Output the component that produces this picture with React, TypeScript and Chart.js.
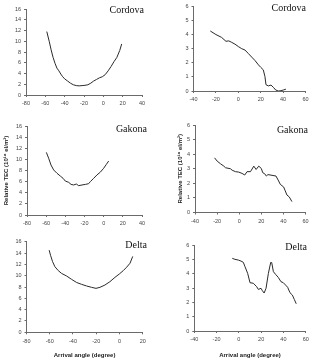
import { useEffect, useRef } from "react";
import { Chart, registerables } from "chart.js";

Chart.register(...registerables);

// ---- Data ----
const cordovaLeftX = [-58.5, -56, -54, -52, -50, -48, -46, -44, -42, -40, -37, -34, -31, -28, -25, -22, -19, -16, -13, -10, -7, -4, -1, 2, 5, 8, 11, 14, 17, 19];
const cordovaLeftY = [11.8, 10.0, 8.4, 7.0, 5.9, 5.0, 4.5, 3.9, 3.4, 3.0, 2.6, 2.2, 1.9, 1.75, 1.7, 1.75, 1.8, 1.9, 2.2, 2.6, 2.9, 3.2, 3.4, 3.8, 4.5, 5.3, 6.2, 7.0, 8.3, 9.5];

const cordovaRightX = [-25, -20, -15, -11, -8.5, -6, -3, 0, 3, 6, 9, 12, 15, 18, 20, 22.3, 23.8, 24.7, 26.8, 29.2, 31.3, 33.4, 35.7, 38.1, 40.2, 42.5];
const cordovaRightY = [4.25, 4.0, 3.8, 3.52, 3.55, 3.45, 3.32, 3.15, 3.0, 2.9, 2.65, 2.4, 2.15, 1.85, 1.68, 1.5, 1.02, 0.45, 0.36, 0.42, 0.26, 0.07, 0.0, 0.02, 0.07, 0.13];

const gakonaLeftX = [-59.8, -57.4, -55, -52.2, -48.7, -45.2, -42.4, -40, -36.5, -34, -31.3, -28.5, -26.1, -22.6, -19.1, -15.7, -13.9, -10.4, -7, -3.5, 0, 2.8, 5.2];
const gakonaLeftY = [11.26, 10.2, 9.0, 8.1, 7.5, 7.0, 6.6, 6.1, 5.87, 5.5, 5.4, 5.57, 5.27, 5.4, 5.5, 5.63, 6.0, 6.6, 7.2, 7.7, 8.4, 9.1, 9.7];

const gakonaRightX = [-22.3, -19.9, -16.9, -13.9, -12.4, -7.9, -6.4, -3.4, -0.4, 2.6, 5, 7.1, 10.2, 13.2, 15.3, 17.7, 20, 21.3, 23, 24.6, 26, 29.7, 33.3, 35.7, 37.2, 40.2, 41.7, 43.2, 45.3, 47.7];
const gakonaRightY = [3.75, 3.52, 3.34, 3.18, 3.07, 3.0, 2.9, 2.8, 2.77, 2.68, 2.57, 2.8, 2.8, 3.18, 2.95, 3.18, 3.02, 2.73, 2.66, 2.5, 2.6, 2.55, 2.5, 2.16, 1.93, 1.75, 1.48, 1.2, 1.07, 0.75];

const deltaLeftX = [-60.5, -59.3, -57.6, -55.6, -52.7, -49.8, -45.5, -41.2, -36.9, -32.6, -28.3, -24, -20.2, -16.8, -12.5, -8.2, -3.9, -0.1, 3.3, 6.2, 9.1, 11.4];
const deltaLeftY = [14.5, 13.6, 12.5, 11.6, 10.9, 10.4, 9.94, 9.35, 8.8, 8.47, 8.18, 7.94, 7.76, 7.94, 8.35, 8.94, 9.7, 10.3, 10.9, 11.5, 12.2, 13.4];

const deltaRightX = [-5.9, -3.5, -0.5, 1.9, 4, 5.5, 7.9, 10, 13, 16, 17.5, 19.9, 21.1, 22.7, 24.4, 26.5, 28.6, 29.5, 31, 33, 35.4, 37.8, 39.9, 42, 43.8, 45.9, 48, 49.8, 51.5];
const deltaRightY = [5.07, 5.0, 4.95, 4.88, 4.79, 4.49, 4.02, 3.37, 3.33, 3.09, 2.9, 2.98, 2.81, 2.65, 2.98, 4.02, 4.79, 4.77, 4.14, 3.95, 3.74, 3.44, 3.37, 3.2, 3.05, 2.67, 2.51, 2.2, 1.9];

const stations = ["Cordova", "Gakona", "Delta"];
const yTitleText = "Relative TEC (10\u00B9\u2076 el/m\u00B2)";
const xTitleText = "Arrival angle (degree)";

type Panel = {
  xs: number[];
  ys: number[];
  xMin: number;
  xMax: number;
  yMax: number;
  yStep: number;
  station: string;
  box: { left: number; top: number; width: number; height: number };
  plot: { left: number; top: number; right: number; bottom: number };
  labelDx: number;
  labelDy: number;
  yTitle?: number; // title padding
  xTitle?: boolean;
};

const panels: Panel[] = [
  {
    xs: cordovaLeftX, ys: cordovaLeftY, xMin: -80, xMax: 40, yMax: 16, yStep: 2, station: stations[0],
    box: { left: 0, top: 0, width: 155, height: 114 },
    plot: { left: 26, top: 9, right: 142, bottom: 95 },
    labelDx: 2, labelDy: 1.5,
  },
  {
    xs: cordovaRightX, ys: cordovaRightY, xMin: -40, xMax: 60, yMax: 6, yStep: 1, station: stations[0],
    box: { left: 160, top: 0, width: 155, height: 114 },
    plot: { left: 193.5, top: 6, right: 305.5, bottom: 91 },
    labelDx: 0.5, labelDy: 2.5,
  },
  {
    xs: gakonaLeftX, ys: gakonaLeftY, xMin: -80, xMax: 40, yMax: 16, yStep: 2, station: stations[1],
    box: { left: 0, top: 116, width: 155, height: 116 },
    plot: { left: 27, top: 126, right: 142, bottom: 215 },
    labelDx: 5, labelDy: 3, yTitle: 2.4,
  },
  {
    xs: gakonaRightX, ys: gakonaRightY, xMin: -40, xMax: 60, yMax: 6, yStep: 1, station: stations[1],
    box: { left: 175, top: 116, width: 140, height: 116 },
    plot: { left: 195, top: 125, right: 305.5, bottom: 212.5 },
    labelDx: 2.5, labelDy: 5, yTitle: 1.4,
  },
  {
    xs: deltaLeftX, ys: deltaLeftY, xMin: -80, xMax: 20, yMax: 16, yStep: 2, station: stations[2],
    box: { left: 0, top: 232, width: 155, height: 127 },
    plot: { left: 26.5, top: 241.7, right: 142.7, bottom: 332.3 },
    labelDx: 4.3, labelDy: 4, xTitle: true,
  },
  {
    xs: deltaRightX, ys: deltaRightY, xMin: -40, xMax: 60, yMax: 6, yStep: 1, station: stations[2],
    box: { left: 160, top: 232, width: 155, height: 127 },
    plot: { left: 194.3, top: 245, right: 305.7, bottom: 331 },
    labelDx: 1.3, labelDy: 2, xTitle: true,
  },
];

const stationPlugin = {
  id: "station",
  afterDraw(chart: any, _args: any, opts: any) {
    const { ctx, chartArea } = chart;
    ctx.save();
    ctx.font = '10px "Liberation Serif", "Times New Roman", serif';
    ctx.fillStyle = "#111";
    ctx.textAlign = "right";
    ctx.textBaseline = "middle";
    ctx.fillText(opts.text, chartArea.right + opts.dx, chartArea.top + opts.dy);
    ctx.restore();
  },
};

const tickFont = { family: '"Liberation Sans", Arial, sans-serif', size: 5.5 };
const titleFont = { family: '"Liberation Sans", Arial, sans-serif', size: 6, weight: "bold" as const };

function PanelChart({ p }: { p: Panel }) {
  const ref = useRef<HTMLCanvasElement | null>(null);
  useEffect(() => {
    if (!ref.current) return;
    const axisColor = "#6a6a6a";
    const chart = new Chart(ref.current, {
      type: "scatter",
      data: {
        datasets: [
          {
            data: p.xs.map((x, i) => ({ x, y: p.ys[i] })),
            showLine: true,
            borderColor: "#2a2a2a",
            borderWidth: 1,
            pointRadius: 0,
            tension: 0,
            fill: false,
          },
        ],
      },
      options: {
        animation: false,
        responsive: false,
        devicePixelRatio: 1,
        layout: {
          padding: {
            left: 0,
            bottom: 0,
            top: p.plot.top - p.box.top,
            right: p.box.left + p.box.width - p.plot.right,
          },
        },
        plugins: {
          legend: { display: false },
          tooltip: { enabled: false },
          station: { text: p.station, dx: p.labelDx, dy: p.labelDy },
        } as any,
        scales: {
          x: {
            type: "linear",
            min: p.xMin,
            max: p.xMax,
            ticks: { stepSize: 20, font: tickFont, color: "#444", padding: 3.5, maxRotation: 0, autoSkip: false },
            grid: { drawOnChartArea: false, tickLength: 2, color: axisColor },
            border: { color: axisColor },
            title: {
              display: !!p.xTitle,
              text: xTitleText,
              font: titleFont,
              color: "#222",
              padding: { top: 0, bottom: 0 },
            },
            afterFit: (s: any) => {
              s.height = p.box.top + p.box.height - p.plot.bottom;
            },
          },
          y: {
            type: "linear",
            min: 0,
            max: p.yMax,
            ticks: { stepSize: p.yStep, font: tickFont, color: "#444", padding: 3 },
            grid: { drawOnChartArea: false, tickLength: 2, color: axisColor },
            border: { color: axisColor },
            title: {
              display: p.yTitle !== undefined,
              text: yTitleText,
              font: titleFont,
              color: "#222",
              padding: { top: p.yTitle ?? 0, bottom: 0 },
            },
            afterFit: (s: any) => {
              s.width = p.plot.left - p.box.left;
            },
          },
        },
      },
      plugins: [stationPlugin],
    });
    return () => chart.destroy();
  }, [p]);
  return (
    <canvas
      ref={ref}
      width={p.box.width}
      height={p.box.height}
      style={{
        position: "absolute",
        left: p.box.left,
        top: p.box.top,
        width: p.box.width,
        height: p.box.height,
        display: "block",
      }}
    />
  );
}

export default function App() {
  return (
    <div style={{ position: "absolute", left: 0, top: 0, width: 315, height: 359, background: "#fff" }}>
      {panels.map((p, i) => (
        <PanelChart key={i} p={p} />
      ))}
    </div>
  );
}
